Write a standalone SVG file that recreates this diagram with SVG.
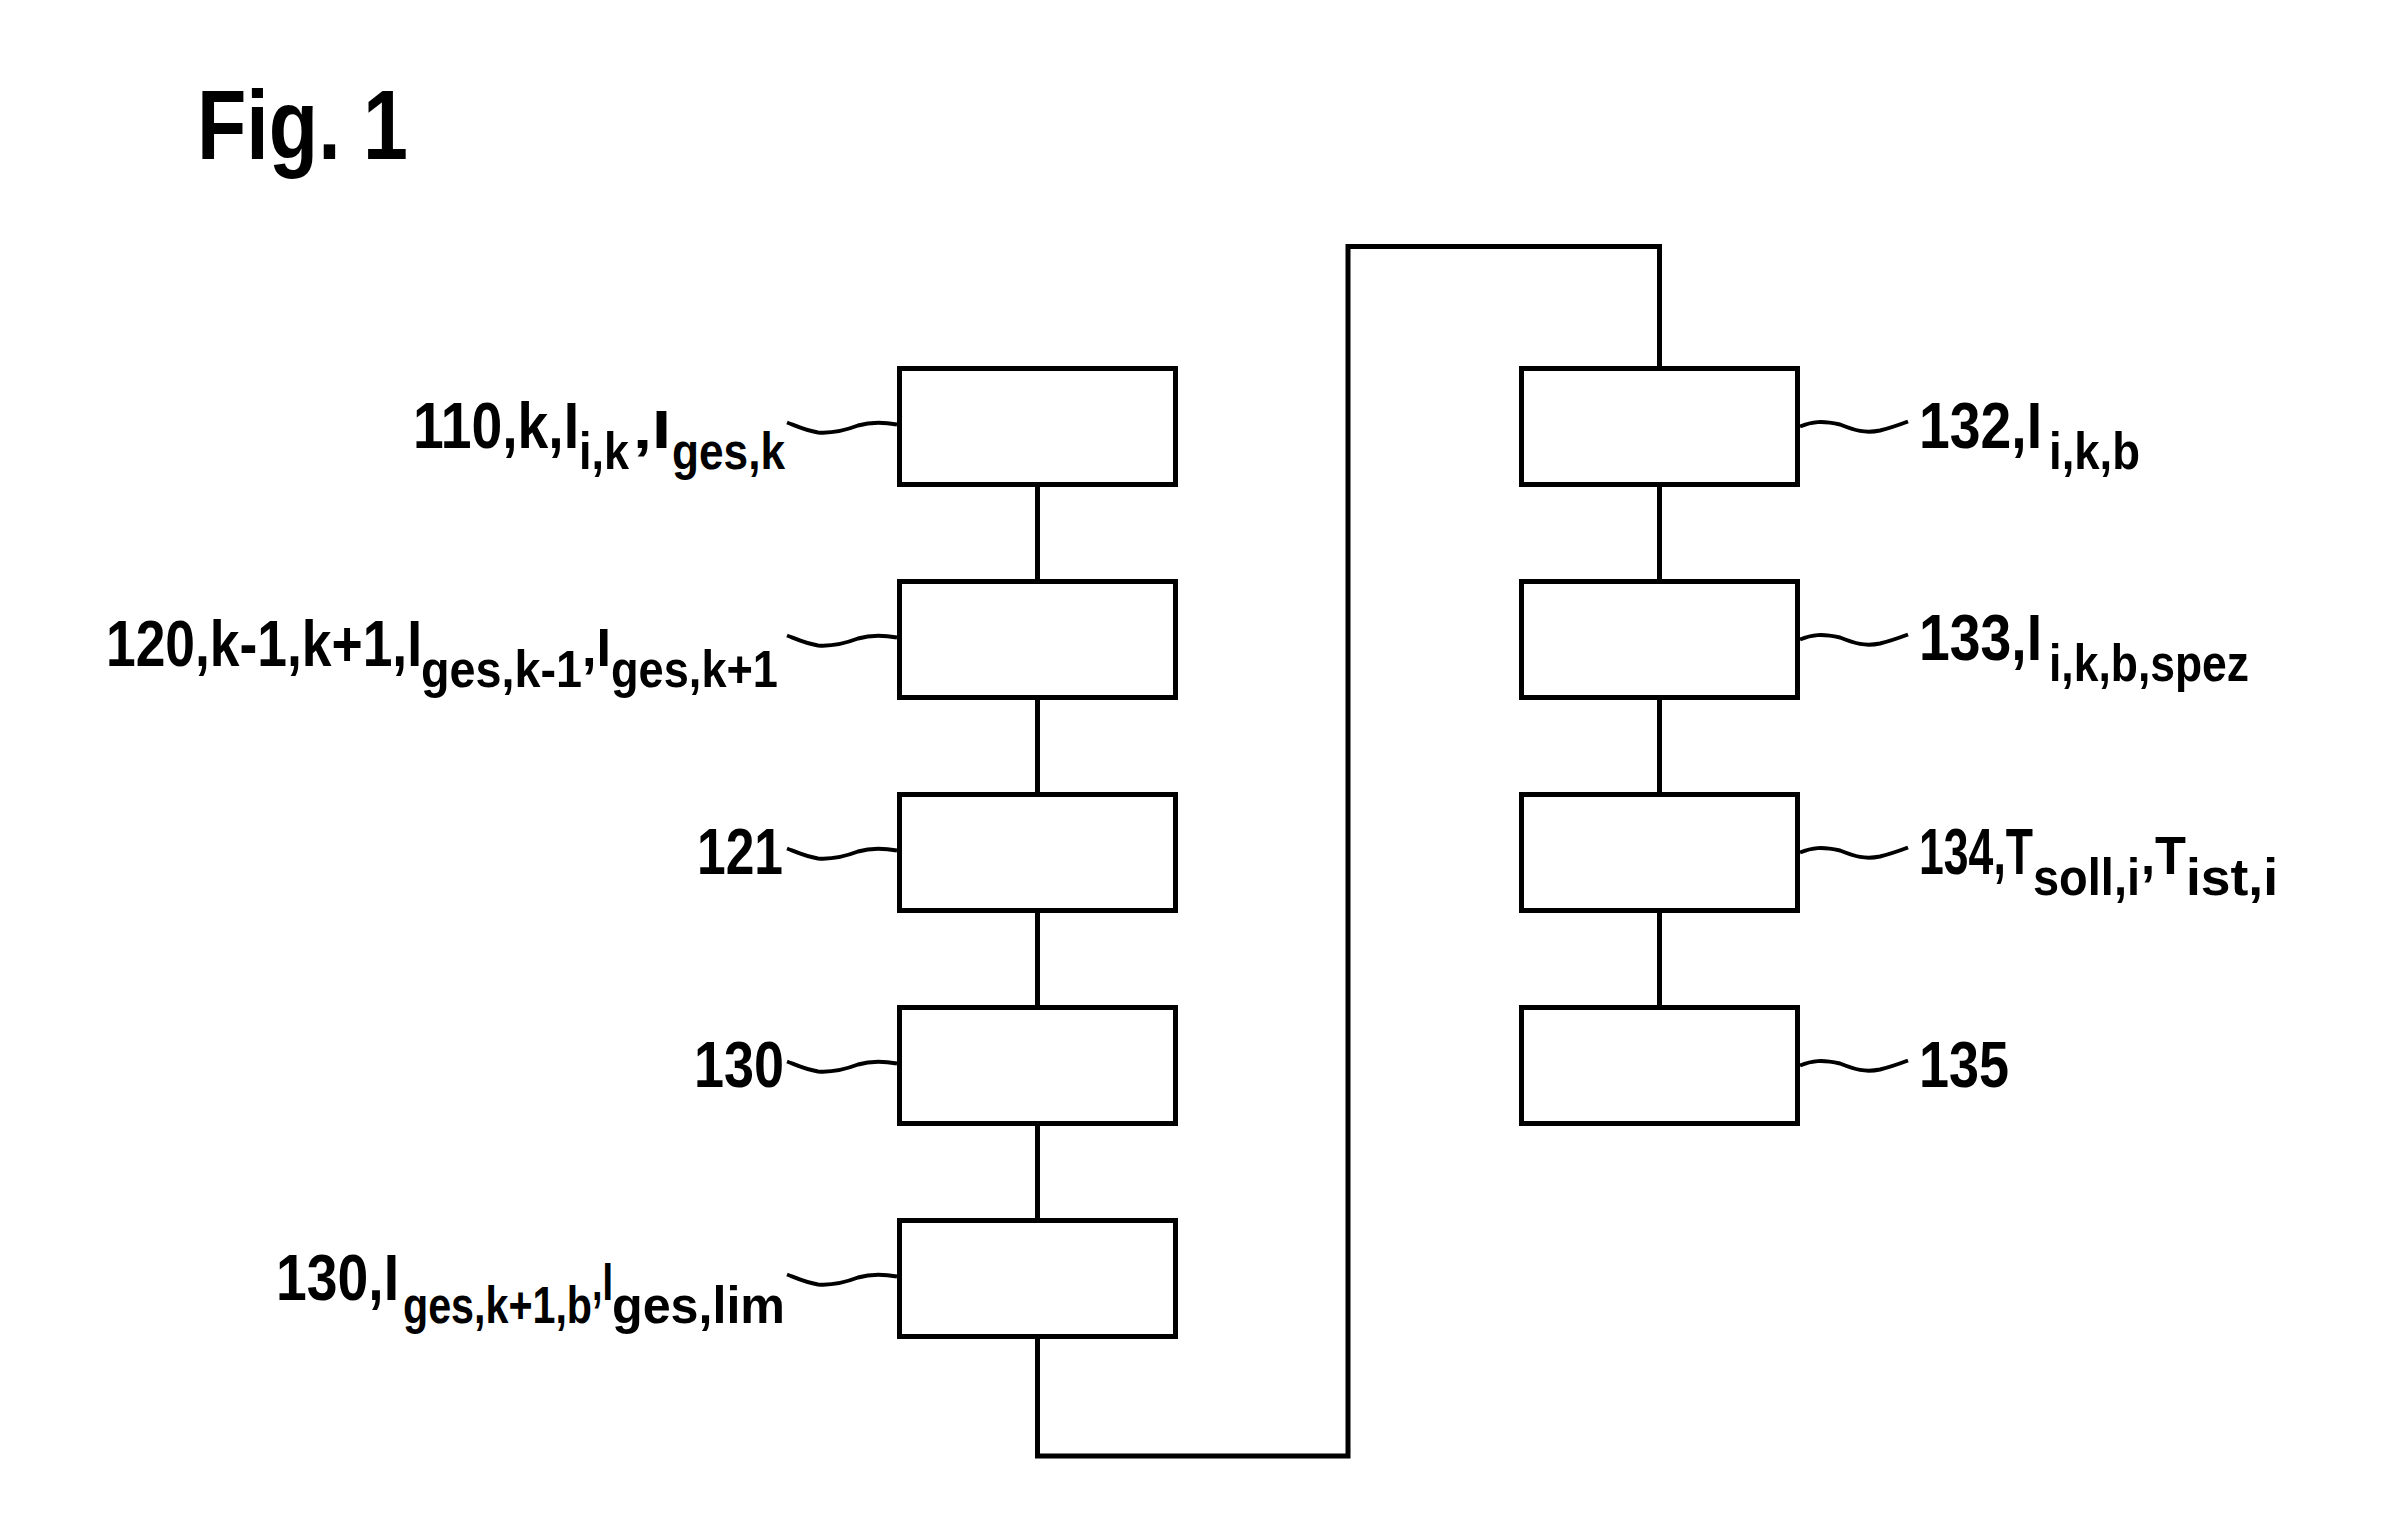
<svg xmlns="http://www.w3.org/2000/svg" width="2404" height="1532" viewBox="0 0 2404 1532">
<style>
  .box{fill:#fff;stroke:#000;stroke-width:5}
  .ln{fill:none;stroke:#000;stroke-width:5;stroke-linecap:square}
  .sq{fill:none;stroke:#000;stroke-width:4}
  text{font-family:"Liberation Sans",Arial,sans-serif;font-weight:bold;fill:#000}
  .m{font-size:65px}
  .s{font-size:52px}
  .c{font-size:54px}
  .fig{font-size:98px}
</style>
<rect width="2404" height="1532" fill="#fff"/>
<text class="fig" x="197" y="159" textLength="211" lengthAdjust="spacingAndGlyphs">Fig. 1</text>

<g id="connectors">
  <path class="ln" d="M1037.5 487 V579"/>
  <path class="ln" d="M1037.5 700 V792"/>
  <path class="ln" d="M1037.5 913 V1005"/>
  <path class="ln" d="M1037.5 1126 V1218"/>
  <path class="ln" d="M1037.5 1339 V1456 H1348 V246.5 H1659.5 V366"/>
  <path class="ln" d="M1659.5 487 V579"/>
  <path class="ln" d="M1659.5 700 V792"/>
  <path class="ln" d="M1659.5 913 V1005"/>
</g>

<g id="n110">
  <rect class="box" x="899.5" y="368.5" width="276" height="116"/>
  <path class="sq" d="M897 424.5 C885 422.5 872 421.5 858 425.5 C845 430.5 832 433.5 818 432.5 C805 430.5 795 425.5 787 422.5"/>
  <text class="m" x="413" y="448" textLength="166" lengthAdjust="spacingAndGlyphs">110,k,I</text>
  <text class="s" x="579" y="469" textLength="50" lengthAdjust="spacingAndGlyphs">i,k</text>
  <text class="c" x="633" y="448" textLength="38" lengthAdjust="spacingAndGlyphs">,I</text>
  <text class="s" x="672" y="469" textLength="113" lengthAdjust="spacingAndGlyphs">ges,k</text>
</g>

<g id="n120">
  <rect class="box" x="899.5" y="581.5" width="276" height="116"/>
  <path class="sq" d="M897 637.5 C885 635.5 872 634.5 858 638.5 C845 643.5 832 646.5 818 645.5 C805 643.5 795 638.5 787 635.5"/>
  <text class="m" x="106" y="666" textLength="316" lengthAdjust="spacingAndGlyphs">120,k-1,k+1,I</text>
  <text class="s" x="421" y="687" textLength="161" lengthAdjust="spacingAndGlyphs">ges,k-1</text>
  <text class="c" x="582" y="666" textLength="29" lengthAdjust="spacingAndGlyphs">,I</text>
  <text class="s" x="611" y="687" textLength="167" lengthAdjust="spacingAndGlyphs">ges,k+1</text>
</g>

<g id="n121">
  <rect class="box" x="899.5" y="794.5" width="276" height="116"/>
  <path class="sq" d="M897 850.5 C885 848.5 872 847.5 858 851.5 C845 856.5 832 859.5 818 858.5 C805 856.5 795 851.5 787 848.5"/>
  <text class="m" x="697" y="874" textLength="86" lengthAdjust="spacingAndGlyphs">121</text>
</g>

<g id="n130a">
  <rect class="box" x="899.5" y="1007.5" width="276" height="116"/>
  <path class="sq" d="M897 1063.5 C885 1061.5 872 1060.5 858 1064.5 C845 1069.5 832 1072.5 818 1071.5 C805 1069.5 795 1064.5 787 1061.5"/>
  <text class="m" x="694" y="1087" textLength="90" lengthAdjust="spacingAndGlyphs">130</text>
</g>

<g id="n130b">
  <rect class="box" x="899.5" y="1220.5" width="276" height="116"/>
  <path class="sq" d="M897 1276.5 C885 1274.5 872 1273.5 858 1277.5 C845 1282.5 832 1285.5 818 1284.5 C805 1282.5 795 1277.5 787 1274.5"/>
  <text class="m" x="276" y="1300" textLength="123" lengthAdjust="spacingAndGlyphs">130,I</text>
  <text class="s" x="403" y="1323" textLength="189" lengthAdjust="spacingAndGlyphs">ges,k+1,b</text>
  <text class="c" x="592" y="1300" textLength="21" lengthAdjust="spacingAndGlyphs">,I</text>
  <text class="s" x="612" y="1323" textLength="173" lengthAdjust="spacingAndGlyphs">ges,lim</text>
</g>

<g id="n132">
  <rect class="box" x="1521.5" y="368.5" width="276" height="116"/>
  <path class="sq" d="M1800 426.5 C1812 421.5 1822 420.5 1840 424.5 C1855 430.5 1865 433.5 1880 430.5 C1892 427.5 1900 424.5 1908 421.5"/>
  <text class="m" x="1919" y="448" textLength="123" lengthAdjust="spacingAndGlyphs">132,I</text>
  <text class="s" x="2049" y="469" textLength="91" lengthAdjust="spacingAndGlyphs">i,k,b</text>
</g>

<g id="n133">
  <rect class="box" x="1521.5" y="581.5" width="276" height="116"/>
  <path class="sq" d="M1800 639.5 C1812 634.5 1822 633.5 1840 637.5 C1855 643.5 1865 646.5 1880 643.5 C1892 640.5 1900 637.5 1908 634.5"/>
  <text class="m" x="1919" y="660" textLength="123" lengthAdjust="spacingAndGlyphs">133,I</text>
  <text class="s" x="2049" y="681" textLength="200" lengthAdjust="spacingAndGlyphs">i,k,b,spez</text>
</g>

<g id="n134">
  <rect class="box" x="1521.5" y="794.5" width="276" height="116"/>
  <path class="sq" d="M1800 852.5 C1812 847.5 1822 846.5 1840 850.5 C1855 856.5 1865 859.5 1880 856.5 C1892 853.5 1900 850.5 1908 847.5"/>
  <text class="m" x="1919" y="874" textLength="114" lengthAdjust="spacingAndGlyphs">134,T</text>
  <text class="s" x="2033" y="895" textLength="107" lengthAdjust="spacingAndGlyphs">soll,i</text>
  <text class="c" x="2141" y="874" textLength="45" lengthAdjust="spacingAndGlyphs">,T</text>
  <text class="s" x="2186" y="895" textLength="92" lengthAdjust="spacingAndGlyphs">ist,i</text>
</g>

<g id="n135">
  <rect class="box" x="1521.5" y="1007.5" width="276" height="116"/>
  <path class="sq" d="M1800 1065.5 C1812 1060.5 1822 1059.5 1840 1063.5 C1855 1069.5 1865 1072.5 1880 1069.5 C1892 1066.5 1900 1063.5 1908 1060.5"/>
  <text class="m" x="1919" y="1087" textLength="90" lengthAdjust="spacingAndGlyphs">135</text>
</g>
</svg>
